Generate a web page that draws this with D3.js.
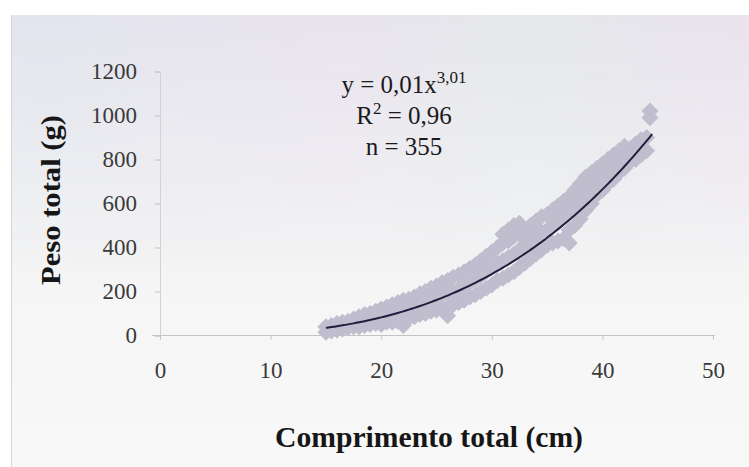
<!DOCTYPE html>
<html>
<head>
<meta charset="utf-8">
<script src="https://cdn.jsdelivr.net/npm/d3@7"></script>
<style>
  html, body { margin: 0; padding: 0; background: #ffffff; }
  svg { display: block; }
  text { font-family: "Liberation Serif", "Times New Roman", serif; }
</style>
</head>
<body>
<svg id="chart" width="749" height="467"></svg>
<script>
// Length (cm) of each sampled fish and the matching weight (g)
const lengthCm = [
  15,15, 15.5,15.5, 16,16, 16.5,16.5, 17,17, 17.5,17.5, 18,18,18, 18.5,18.5,18.5, 19,19,19,
  19.5,19.5,19.5, 20,20,20, 20.5,20.5,20.5, 21,21,21, 21.5,21.5,21.5, 22,22,22,22,
  22.5,22.5,22.5, 23,23,23, 23.5,23.5,23.5, 24,24,24, 24.5,24.5,24.5, 25,25,25, 25.5,25.5,25.5,
  26,26,26,26, 26.5,26.5,26.5, 27,27,27, 27.5,27.5,27.5, 28,28,28, 28.5,28.5,28.5,
  29,29,29, 29.5,29.5,29.5, 30,30,30, 30.5,30.5,30.5, 31,31,31,31, 31.5,31.5,31.5,31.5,
  32,32,32,32, 32.5,32.5,32.5,32.5, 33,33,33, 33.5,33.5,33.5, 34,34,34, 34.5,34.5,34.5,
  35,35,35, 35.5,35.5,35.5, 36,36,36, 36.5,36.5,36.5, 37,37,37,37, 37.5,37.5,37.5,
  38,38,38, 38.5,38.5,38.5, 39,39,39, 39.5,39.5,39.5, 40,40,40, 40.5,40.5,40.5,
  41,41,41, 41.5,41.5,41.5, 42,42,42, 42.5,42.5, 43,43, 43.5,43.5, 44,44, 44.3,44.3];
const weightG = [
  15,40, 20,45, 25,55, 30,60, 35,65, 40,75, 40,60,85, 45,70,95, 50,75,100,
  55,85,110, 50,85,120, 60,95,130, 60,100,140, 65,110,150, 45,80,120,160,
  80,125,165, 85,130,175, 95,145,190, 100,150,200, 110,160,215, 115,170,225, 125,185,240,
  90,130,190,250, 140,200,265, 150,210,275, 160,225,290, 175,240,305, 185,255,320,
  200,270,340, 215,290,360, 230,310,380, 250,330,400, 260,340,420,460, 275,355,430,480,
  290,370,450,500, 310,390,460,510, 330,410,480, 350,430,500, 370,450,520, 390,470,540,
  410,480,550, 420,500,570, 430,520,590, 440,540,610, 420,480,560,630, 500,590,660,
  530,620,690, 570,650,720, 600,680,740, 640,710,760, 660,730,780, 690,760,800,
  710,780,820, 740,800,840, 760,830,860, 790,850, 800,870, 820,890, 840,900, 990,1020];

// Power regression y = a * x^b reported on the chart
const fitA = [0.01];
const fitB = [3.01];
const fitR2 = ["0,96"];
const sampleN = [355];

// Axis ticks
const xTicks = [0, 10, 20, 30, 40, 50];
const yTicks = [0, 200, 400, 600, 800, 1000, 1200];

const svg = d3.select("#chart");
const defs = svg.append("defs");

// Pale panel background, tinted near the top
const gV = defs.append("linearGradient").attr("id", "bgV")
  .attr("x1", 0).attr("y1", 0).attr("x2", 0).attr("y2", 1);
gV.append("stop").attr("offset", "0%").attr("stop-color", "#e6e5ee");
gV.append("stop").attr("offset", "30%").attr("stop-color", "#eeeef2");
gV.append("stop").attr("offset", "65%").attr("stop-color", "#f6f6f6");
gV.append("stop").attr("offset", "100%").attr("stop-color", "#f8f8f8");
const gH = defs.append("linearGradient").attr("id", "bgH")
  .attr("x1", 0).attr("y1", 0).attr("x2", 1).attr("y2", 0);
gH.append("stop").attr("offset", "0%").attr("stop-color", "#dde6ee");
gH.append("stop").attr("offset", "45%").attr("stop-color", "#eee2ee");
gH.append("stop").attr("offset", "70%").attr("stop-color", "#e2ede6");
gH.append("stop").attr("offset", "100%").attr("stop-color", "#f0e0ee");
const fadeG = defs.append("linearGradient").attr("id", "fadeG")
  .attr("x1", 0).attr("y1", 0).attr("x2", 0).attr("y2", 1);
fadeG.append("stop").attr("offset", "0%").attr("stop-color", "#fff").attr("stop-opacity", 0.45);
fadeG.append("stop").attr("offset", "100%").attr("stop-color", "#fff").attr("stop-opacity", 0);
defs.append("mask").attr("id", "fadeM")
  .append("rect").attr("x", 0).attr("y", 15).attr("width", 749).attr("height", 260)
  .attr("fill", "url(#fadeG)");

svg.append("rect").attr("x", 11).attr("y", 15).attr("width", 738).attr("height", 452)
  .attr("fill", "url(#bgV)");
svg.append("rect").attr("x", 11).attr("y", 15).attr("width", 738).attr("height", 260)
  .attr("fill", "url(#bgH)").attr("mask", "url(#fadeM)");
svg.append("line").attr("x1", 11.5).attr("x2", 11.5).attr("y1", 15).attr("y2", 467)
  .attr("stroke", "#d6d6d6").attr("stroke-width", 1);

// Scales
const x = d3.scaleLinear().domain([0, 50]).range([160, 713]);
const y = d3.scaleLinear().domain([0, 1200]).range([335.5, 71.5]);

// Y axis
const yAxis = svg.append("g").attr("transform", `translate(${x(0)},0)`)
  .call(d3.axisLeft(y).tickValues(yTicks).tickSize(5).tickPadding(18).tickFormat(d3.format("d")));
yAxis.select(".domain").attr("stroke", "#d2d2d2");
yAxis.selectAll(".tick line").attr("stroke", "#c0c0c0");
yAxis.selectAll(".tick text").attr("font-size", 23).attr("fill", "#3a3a3a")
  .attr("font-family", "Liberation Serif, serif");

// X axis
const xAxis = svg.append("g").attr("transform", `translate(0,${y(0)})`)
  .call(d3.axisBottom(x).tickValues(xTicks).tickSize(4).tickPadding(22).tickFormat(d3.format("d")));
xAxis.select(".domain").attr("stroke", "#c4c4c4")
  .attr("d", `M${x(0) - 8},0H${x(50) + 2}`);
xAxis.selectAll(".tick line").attr("stroke", "#c0c0c0");
xAxis.selectAll(".tick text").attr("font-size", 23).attr("fill", "#3a3a3a")
  .attr("font-family", "Liberation Serif, serif");

// Scatter of observations, drawn as diamonds
const pts = lengthCm.map((l, i) => ({ l, w: weightG[i] }));
const diamond = d3.symbol().type(d3.symbolSquare).size(145);
svg.append("g").selectAll("path").data(pts).join("path")
  .attr("d", diamond)
  .attr("transform", d => `translate(${x(d.l)},${y(d.w)}) rotate(45)`)
  .attr("fill", "#c0bdce");

// Fitted power curve
const xs = d3.range(15, 44.5 + 1e-9, 0.25);
const line = d3.line().x(d => x(d)).y(d => y(fitA[0] * Math.pow(d, fitB[0])));
svg.append("path").datum(xs).attr("d", line)
  .attr("fill", "none").attr("stroke", "#1f1f3d").attr("stroke-width", 2);

// Regression annotation
const fmt = v => String(v).replace(".", ",");
const ann = svg.append("g").attr("fill", "#1a1a1a").attr("font-size", 25).attr("text-anchor", "middle");
const t1 = ann.append("text").attr("x", 404).attr("y", 93);
t1.append("tspan").text(`y = ${fmt(fitA[0])}x`);
t1.append("tspan").attr("dy", -10).attr("font-size", 17).text(fmt(fitB[0]));
const t2 = ann.append("text").attr("x", 404).attr("y", 124);
t2.append("tspan").text("R");
t2.append("tspan").attr("dy", -10).attr("font-size", 17).text("2");
t2.append("tspan").attr("dy", 10).text(` = ${fitR2[0]}`);
ann.append("text").attr("x", 404).attr("y", 155).text(`n = ${sampleN[0]}`);

// Axis titles
svg.append("text").attr("x", 429).attr("y", 447).attr("text-anchor", "middle")
  .attr("font-size", 29).attr("font-weight", "bold").attr("fill", "#161616")
  .attr("textLength", 308).attr("lengthAdjust", "spacingAndGlyphs")
  .text("Comprimento total (cm)");
svg.append("text").attr("transform", "translate(60,200) rotate(-90)")
  .attr("text-anchor", "middle").attr("font-size", 28).attr("font-weight", "bold").attr("fill", "#161616")
  .attr("textLength", 170).attr("lengthAdjust", "spacingAndGlyphs")
  .text("Peso total (g)");
</script>
</body>
</html>
